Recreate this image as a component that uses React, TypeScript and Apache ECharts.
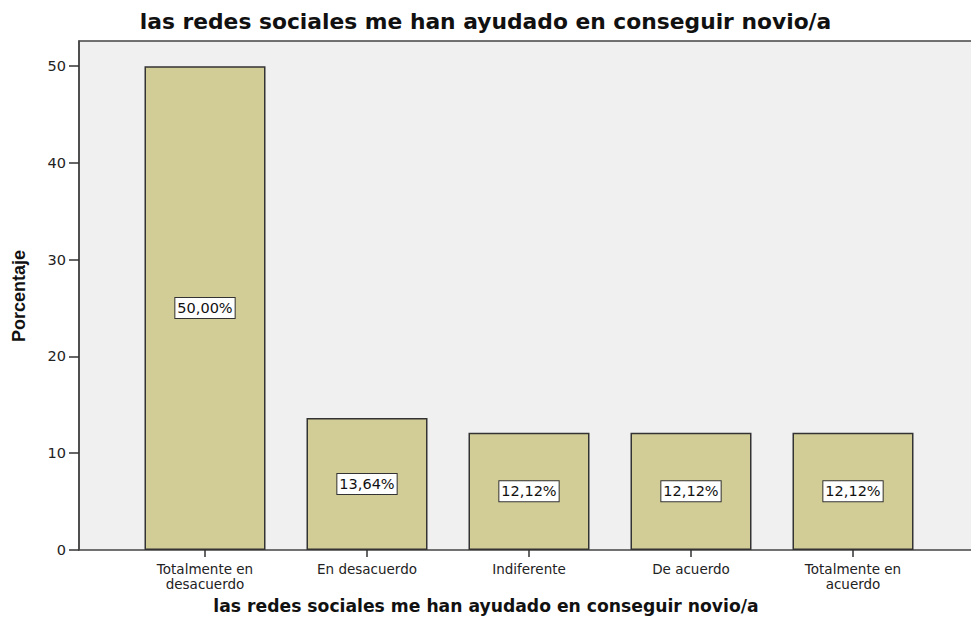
import React, { useEffect, useRef } from "react";
import * as echarts from "echarts";

const titleText = "las redes sociales me han ayudado en conseguir novio/a";
const xAxisTitle = "las redes sociales me han ayudado en conseguir novio/a";
const yAxisTitle = "Porcentaje";
const categories = [
  "Totalmente en\ndesacuerdo",
  "En desacuerdo",
  "Indiferente",
  "De acuerdo",
  "Totalmente en\nacuerdo",
];
const percentages = [50.0, 13.64, 12.12, 12.12, 12.12];
const yMax = 52.6;
const yInterval = 10;

export default function App() {
  const ref = useRef<HTMLDivElement>(null);
  useEffect(() => {
    if (!ref.current) return;
    const chart = echarts.init(ref.current, null, { renderer: "svg" });
    const fontWide = "'DejaVu Sans', Verdana, sans-serif";
    chart.setOption({
      animation: false,
      backgroundColor: "#ffffff",
      title: {
        text: titleText,
        left: "center",
        top: 5,
        textStyle: {
          fontFamily: fontWide,
          fontWeight: "bold",
          fontSize: 21.8,
          color: "#111",
        },
      },
      graphic: [
        {
          type: "text",
          x: 486,
          y: 606,
          style: {
            text: xAxisTitle,
            fontFamily: fontWide,
            fontWeight: "bold",
            fontSize: 17.2,
            fill: "#111",
            align: "center",
            verticalAlign: "middle",
          },
        },
        {
          type: "text",
          x: 19,
          y: 296,
          rotation: Math.PI / 2,
          style: {
            text: yAxisTitle,
            fontFamily: "'Liberation Sans', Arial, sans-serif",
            fontWeight: "bold",
            fontSize: 18,
            fill: "#111",
            align: "center",
            verticalAlign: "middle",
          },
        },
      ],
      grid: [
        {
          left: 79,
          right: -2,
          top: 41,
          bottom: 71,
          show: true,
          backgroundColor: "#f0f0f0",
          borderColor: "#444",
          borderWidth: 1.5,
          containLabel: false,
          outerBoundsMode: "none",
        },
        {
          left: 124,
          right: 37,
          top: 41,
          bottom: 71,
          containLabel: false,
          outerBoundsMode: "none",
        },
      ],
      xAxis: [
        { gridIndex: 0, type: "value", show: false, min: 0, max: 1 },
        {
          gridIndex: 1,
          type: "category",
          data: categories,
          axisLine: { show: false },
          axisTick: {
            show: true,
            alignWithLabel: true,
            length: 7,
            lineStyle: { color: "#333", width: 1.5 },
          },
          axisLabel: {
            fontFamily: fontWide,
            fontSize: 13.5,
            color: "#222",
            lineHeight: 15,
            margin: 11,
            interval: 0,
          },
        },
      ],
      yAxis: [
        {
          gridIndex: 0,
          type: "value",
          min: 0,
          max: yMax,
          interval: yInterval,
          axisLine: { show: true, lineStyle: { color: "#444", width: 1.5 } },
          axisTick: {
            show: true,
            length: 10,
            lineStyle: { color: "#333", width: 1.5 },
          },
          axisLabel: {
            fontFamily: fontWide,
            fontSize: 14.5,
            color: "#222",
            margin: 13,
            showMaxLabel: false,
          },
          splitLine: { show: false },
        },
        {
          gridIndex: 1,
          type: "value",
          min: 0,
          max: yMax,
          interval: yInterval,
          show: false,
          splitLine: { show: false },
        },
      ],
      series: [
        {
          type: "bar",
          xAxisIndex: 1,
          yAxisIndex: 1,
          data: percentages,
          barWidth: 121,
          itemStyle: {
            color: "#d2cd96",
            borderColor: "#333",
            borderWidth: 1.5,
          },
          label: {
            show: true,
            position: "inside",
            formatter: (p: any) => p.value.toFixed(2).replace(".", ",") + "%",
            fontFamily: fontWide,
            fontSize: 14.5,
            color: "#111",
            backgroundColor: "#ffffff",
            borderColor: "#333",
            borderWidth: 1,
            padding: [3, 2, 2, 2],
          },
        },
      ],
    });
    return () => chart.dispose();
  }, []);
  return (
    <div
      ref={ref}
      style={{ position: "absolute", left: 0, top: 0, width: 971, height: 621 }}
    />
  );
}
